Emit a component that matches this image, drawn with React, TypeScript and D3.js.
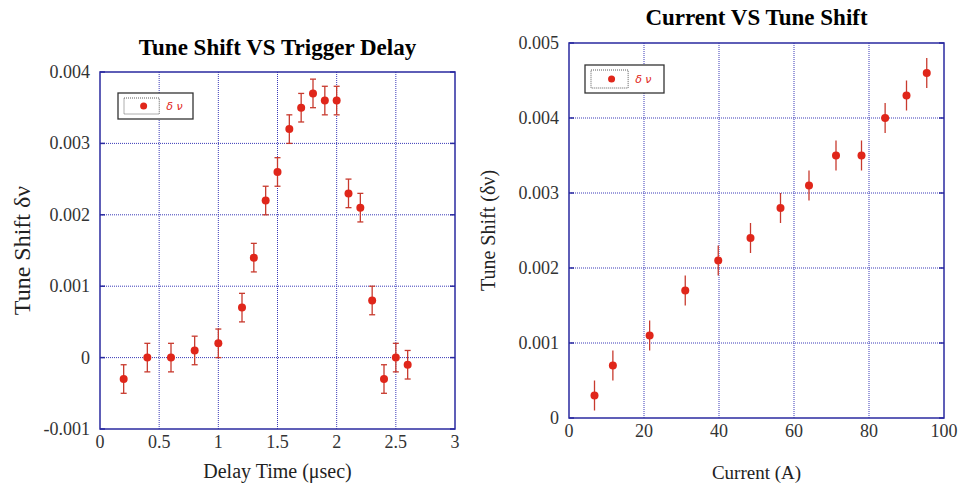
import React from 'react';
import * as d3 from 'd3';

const W = 958;
const H = 486;
const frameColor = '#2a2aa0';
const gridColor = '#3a3ab8';
const red = '#e0261a';
const errColor = '#c83a2e';
const font = '"Liberation Serif", "Times New Roman", serif';

// left panel: tune shift vs trigger delay
const delayTimes = [0.2, 0.4, 0.6, 0.8, 1.0, 1.2, 1.3, 1.4, 1.5, 1.6, 1.7, 1.8, 1.9, 2.0, 2.1, 2.2, 2.3, 2.4, 2.5, 2.6];
const delayShifts = [-0.0003, 0, 0, 0.0001, 0.0002, 0.0007, 0.0014, 0.0022, 0.0026, 0.0032, 0.0035, 0.0037, 0.0036, 0.0036, 0.0023, 0.0021, 0.0008, -0.0003, 0, -0.0001];
const delayErr = 0.0002;
const delayXTicks = [0, 0.5, 1, 1.5, 2, 2.5, 3];
const delayYTicks = [-0.001, 0, 0.001, 0.002, 0.003, 0.004];

// right panel: current vs tune shift
const currents = [6.8, 11.7, 21.5, 31, 39.8, 48.4, 56.4, 64, 71.2, 78, 84.3, 90, 95.4];
const currentShifts = [0.0003, 0.0007, 0.0011, 0.0017, 0.0021, 0.0024, 0.0028, 0.0031, 0.0035, 0.0035, 0.004, 0.0043, 0.0046];
const currentErr = 0.0002;
const currentXTicks = [0, 20, 40, 60, 80, 100];
const currentYTicks = [0, 0.001, 0.002, 0.003, 0.004, 0.005];

// plain hyphen for negatives, like the original plot
const fmtY = (v: number) => (v === 0 ? '0' : d3.format('.3f')(v).replace('\u2212', '-'));

type PanelProps = {
  box: { left: number; top: number; right: number; bottom: number };
  xDomain: [number, number];
  yDomain: [number, number];
  xs: number[];
  ys: number[];
  err: number;
  caps: boolean;
  xTicks: number[];
  yTicks: number[];
  title: string;
  titleY: number;
  xLabel: string;
  xLabelY: number;
  xLabelSize: number;
  yLabel: string;
  yLabelX: number;
  yLabelSize: number;
  legend: { x: number; y: number; w: number; h: number };
};

function Panel(p: PanelProps) {
  const { box } = p;
  const x = d3.scaleLinear().domain(p.xDomain).range([box.left, box.right]);
  const y = d3.scaleLinear().domain(p.yDomain).range([box.bottom, box.top]);
  const cx = (box.left + box.right) / 2;
  const cy = (box.top + box.bottom) / 2;
  const lg = p.legend;
  return (
    <g>
      <text x={cx} y={p.titleY} textAnchor="middle" fontFamily={font} fontWeight="bold" fontSize={23}>{p.title}</text>
      {/* grid */}
      {p.xTicks.slice(1, -1).map(t => (
        <line key={'gx' + t} x1={x(t)} x2={x(t)} y1={box.top} y2={box.bottom} stroke={gridColor} strokeWidth={1} strokeDasharray="1,1" />
      ))}
      {p.yTicks.slice(1, -1).map(t => (
        <line key={'gy' + t} x1={box.left} x2={box.right} y1={y(t)} y2={y(t)} stroke={gridColor} strokeWidth={1} strokeDasharray="1,1" />
      ))}
      {/* small ticks on frame */}
      {p.yTicks.map(t => (
        <g key={'ty' + t}>
          <line x1={box.left} x2={box.left + 5} y1={y(t)} y2={y(t)} stroke={frameColor} strokeWidth={1.5} />
          <line x1={box.right - 5} x2={box.right} y1={y(t)} y2={y(t)} stroke={frameColor} strokeWidth={1.5} />
          <text x={box.left - 10} y={y(t) + 6} textAnchor="end" fontFamily={font} fontSize={18} fill="#333">{fmtY(t)}</text>
        </g>
      ))}
      {p.xTicks.map(t => (
        <text key={'tx' + t} x={x(t)} y={box.bottom + 19} textAnchor="middle" fontFamily={font} fontSize={18} fill="#333">{t}</text>
      ))}
      <rect x={box.left} y={box.top} width={box.right - box.left} height={box.bottom - box.top} fill="none" stroke={frameColor} strokeWidth={1.5} />
      {/* data */}
      {p.xs.map((v, i) => {
        const px = x(v);
        const y0 = y(p.ys[i] - p.err);
        const y1 = y(p.ys[i] + p.err);
        return (
          <g key={'d' + i}>
            <line x1={px} x2={px} y1={y0} y2={y1} stroke={errColor} strokeWidth={1.3} />
            {p.caps && (
              <>
                <line x1={px - 3} x2={px + 3} y1={y0} y2={y0} stroke={errColor} strokeWidth={1.3} />
                <line x1={px - 3} x2={px + 3} y1={y1} y2={y1} stroke={errColor} strokeWidth={1.3} />
              </>
            )}
            <circle cx={px} cy={y(p.ys[i])} r={4} fill={red} />
          </g>
        );
      })}
      {/* legend */}
      <rect x={lg.x} y={lg.y} width={lg.w} height={lg.h} fill="#fff" stroke="#333" strokeWidth={1.3} />
      <rect x={lg.x + 6} y={lg.y + 5} width={lg.w * 0.47} height={lg.h - 10} fill="none" stroke="#333" strokeWidth={0.8} strokeDasharray="1,1" />
      <circle cx={lg.x + 6 + lg.w * 0.235 + 2} cy={lg.y + lg.h / 2} r={3.5} fill={red} />
      <text x={lg.x + lg.w * 0.47 + 13} y={lg.y + lg.h / 2 + 4} fontFamily='"DejaVu Sans", sans-serif' fontStyle="italic" fontSize={11} fill={red}>δ ν</text>
      <text x={cx} y={p.xLabelY} textAnchor="middle" fontFamily={font} fontSize={p.xLabelSize} fill="#222">{p.xLabel}</text>
      <text transform={`translate(${p.yLabelX},${cy}) rotate(-90)`} textAnchor="middle" fontFamily={font} fontSize={p.yLabelSize} fill="#222">{p.yLabel}</text>
    </g>
  );
}

export default function App() {
  return (
    <svg width={W} height={H} style={{ position: 'absolute', left: 0, top: 0 }}>
      <rect width={W} height={H} fill="#fff" />
      <Panel
        box={{ left: 100, top: 72, right: 455, bottom: 429 }}
        xDomain={[0, 3]}
        yDomain={[-0.001, 0.004]}
        xs={delayTimes}
        ys={delayShifts}
        err={delayErr}
        caps={true}
        xTicks={delayXTicks}
        yTicks={delayYTicks}
        title="Tune Shift VS Trigger Delay"
        titleY={55}
        xLabel="Delay Time (μsec)"
        xLabelY={478}
        xLabelSize={20}
        yLabel="Tune Shift δν"
        yLabelX={30}
        yLabelSize={24}
        legend={{ x: 118, y: 93, w: 75, h: 26 }}
      />
      <Panel
        box={{ left: 569, top: 43, right: 944, bottom: 418 }}
        xDomain={[0, 100]}
        yDomain={[0, 0.005]}
        xs={currents}
        ys={currentShifts}
        err={currentErr}
        caps={false}
        xTicks={currentXTicks}
        yTicks={currentYTicks}
        title="Current VS Tune Shift"
        titleY={25}
        xLabel="Current (A)"
        xLabelY={479}
        xLabelSize={19}
        yLabel="Tune Shift (δν)"
        yLabelX={495}
        yLabelSize={20}
        legend={{ x: 585, y: 65, w: 79, h: 28 }}
      />
    </svg>
  );
}
